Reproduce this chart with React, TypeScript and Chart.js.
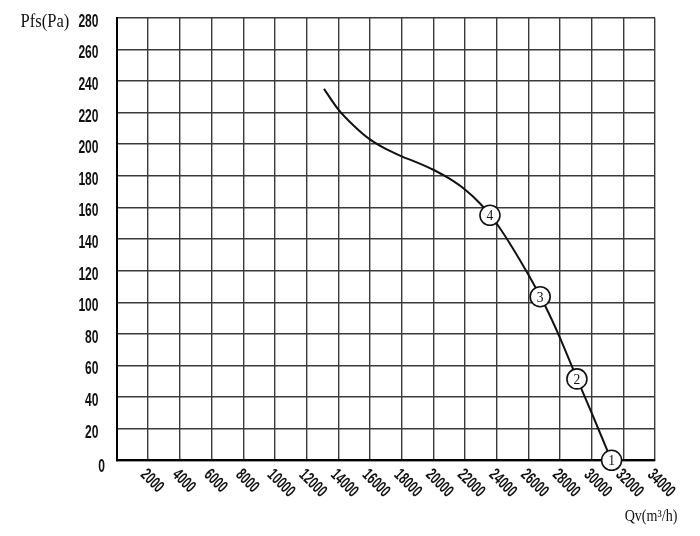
import { useEffect, useRef } from 'react';
import { Chart, registerables } from 'chart.js';

Chart.register(...registerables);

// ---- data ----
const xTicks = [0, 2000, 4000, 6000, 8000, 10000, 12000, 14000, 16000, 18000, 20000, 22000, 24000, 26000, 28000, 30000, 32000, 34000];
const xTickLabels = ['2000', '4000', '6000', '8000', '10000', '12000', '14000', '16000', '18000', '20000', '22000', '24000', '26000', '28000', '30000', '32000', '34000'];
const yTicks = [0, 20, 40, 60, 80, 100, 120, 140, 160, 180, 200, 220, 240, 260, 280];

const curveQ = [13100, 14000, 15000, 16000, 17000, 18000, 19000, 20000, 21000, 22000, 23000, 24000, 25000, 26000, 27000, 28000, 29000, 30000, 31000, 31260];
const curveP = [235, 222, 211.5, 203, 197, 192.3, 188.3, 183.8, 178.3, 171.3, 162, 149.8, 134.5, 117.5, 99, 77.5, 53.5, 30, 6, 0];

const markerQ = [31260, 29070, 26750, 23580];
const markerP = [0, 51.5, 103.5, 155];
const markerLabels = ['1', '2', '3', '4'];

const yTitle = 'Pfs(Pa)';
const xTitle = 'Qv(m³/h)';

const textPlugin = {
  id: 'customText',
  afterDatasetsDraw(chart: any) {
    const ctx = chart.ctx as CanvasRenderingContext2D;
    const xs = chart.scales.x;
    const ys = chart.scales.y;
    ctx.save();
    ctx.fillStyle = '#111';
    markerQ.forEach((q, i) => {
      const px = xs.getPixelForValue(q);
      const py = ys.getPixelForValue(markerP[i]);
      ctx.save();
      ctx.translate(px, py + 1);
      ctx.scale(0.9, 1);
      ctx.font = '15px "Liberation Serif", "DejaVu Serif", serif';
      ctx.textAlign = 'center';
      ctx.textBaseline = 'middle';
      ctx.fillText(markerLabels[i], 0, 0);
      ctx.restore();
    });
    ctx.restore();
  },
  afterDraw(chart: any) {
    const ctx = chart.ctx as CanvasRenderingContext2D;
    const xs = chart.scales.x;
    const ys = chart.scales.y;
    const area = chart.chartArea;
    ctx.save();
    ctx.fillStyle = '#111';
    // y tick labels
    yTicks.forEach((v) => {
      const py = ys.getPixelForValue(v);
      const isZero = v === 0;
      ctx.save();
      ctx.translate(isZero ? area.left - 11.5 : area.left - 18, py + (isZero ? 7 : 4));
      ctx.scale(0.67, 1);
      ctx.font = 'bold 18px "Liberation Sans", Arial, sans-serif';
      ctx.textAlign = 'right';
      ctx.textBaseline = 'middle';
      ctx.fillText(String(v), 0, 0);
      ctx.restore();
    });
    // x tick labels (rotated clockwise)
    xTickLabels.forEach((lab) => {
      const px = xs.getPixelForValue(Number(lab));
      ctx.save();
      ctx.translate(px - 5, area.bottom + 12);
      ctx.rotate(Math.PI / 4);
      ctx.scale(0.66, 1);
      ctx.font = 'bold 17px "Liberation Sans", Arial, sans-serif';
      ctx.textAlign = 'left';
      ctx.textBaseline = 'middle';
      ctx.fillText(lab, 0, 0);
      ctx.restore();
    });
    // axis titles
    ctx.save();
    ctx.translate(45, 22);
    ctx.scale(0.92, 1);
    ctx.font = '18px "Liberation Serif", "DejaVu Serif", serif';
    ctx.textAlign = 'center';
    ctx.textBaseline = 'middle';
    ctx.fillText(yTitle, 0, 0);
    ctx.restore();

    ctx.save();
    ctx.translate(651, 517);
    ctx.scale(0.88, 1);
    ctx.font = '16px "Liberation Serif", "DejaVu Serif", serif';
    ctx.textAlign = 'center';
    ctx.textBaseline = 'middle';
    ctx.fillText(xTitle, 0, 0);
    ctx.restore();

    ctx.restore();
  },
};

export default function App() {
  const ref = useRef<HTMLCanvasElement | null>(null);
  useEffect(() => {
    if (!ref.current) return;
    const chart = new Chart(ref.current, {
      type: 'line',
      data: {
        datasets: [
          {
            type: 'scatter',
            label: 'markers',
            data: markerQ.map((q, i) => ({ x: q, y: markerP[i] })),
            pointRadius: 10,
            pointHoverRadius: 10,
            pointBackgroundColor: '#ffffff',
            pointBorderColor: '#111',
            pointBorderWidth: 1.6,
            showLine: false,
            clip: false,
            order: 0,
          } as any,
          {
            type: 'line',
            label: 'curve',
            data: curveQ.map((q, i) => ({ x: q, y: curveP[i] })),
            borderColor: '#111',
            borderWidth: 2,
            pointRadius: 0,
            cubicInterpolationMode: 'monotone',
            fill: false,
            clip: false,
            order: 1,
          } as any,
        ],
      },
      options: {
        animation: false,
        responsive: false,
        devicePixelRatio: 1,
        layout: { padding: { left: 116.5, right: 45, top: 17.7, bottom: 75.7 } },
        plugins: { legend: { display: false }, tooltip: { enabled: false } },
        scales: {
          x: {
            type: 'linear',
            min: xTicks[0],
            max: xTicks[xTicks.length - 1],
            afterBuildTicks: (scale: any) => {
              scale.ticks = xTicks.map((v) => ({ value: v }));
            },
            ticks: { display: false },
            grid: { color: '#3a3a3a', lineWidth: 1.4, drawTicks: false },
            border: { color: '#000', width: 2 },
          },
          y: {
            type: 'linear',
            min: yTicks[0],
            max: yTicks[yTicks.length - 1],
            afterBuildTicks: (scale: any) => {
              scale.ticks = yTicks.map((v) => ({ value: v }));
            },
            ticks: { display: false },
            grid: { color: '#3a3a3a', lineWidth: 1.4, drawTicks: false },
            border: { color: '#000', width: 2 },
          },
        },
      },
      plugins: [textPlugin],
    });
    return () => chart.destroy();
  }, []);
  return (
    <div style={{ position: 'fixed', left: 0, top: 0, width: 700, height: 536, background: '#fff' }}>
      <canvas ref={ref} width={700} height={536} style={{ display: 'block' }} />
    </div>
  );
}
